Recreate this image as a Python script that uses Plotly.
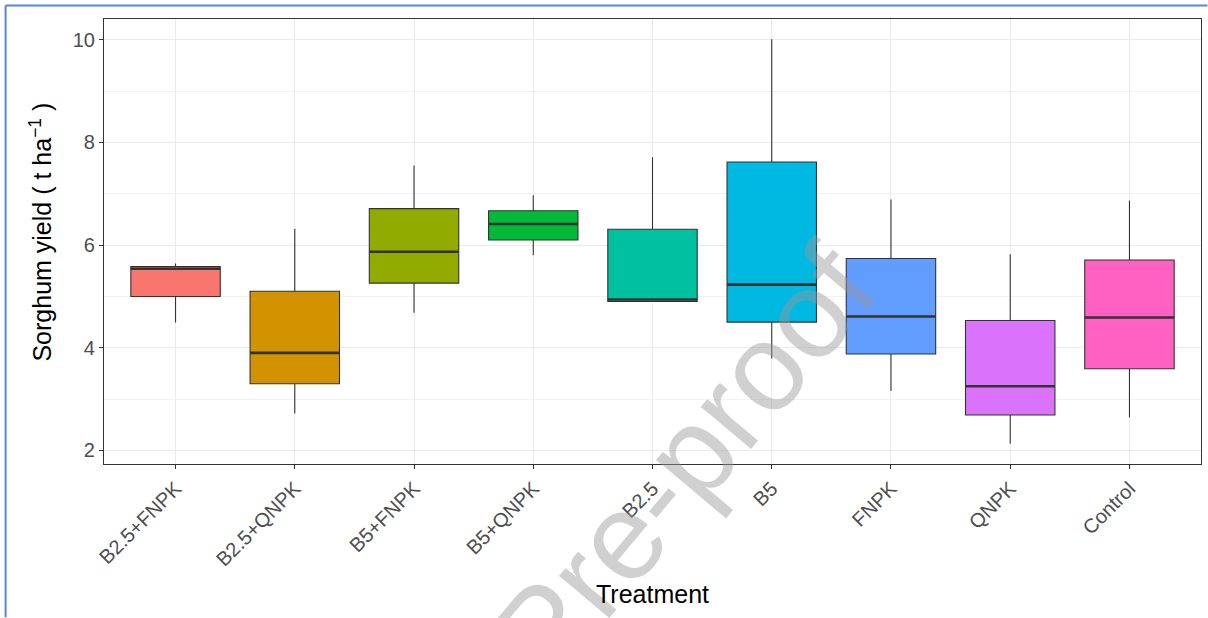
import plotly.graph_objects as go

# ---- data ----
treatments = ["B2.5+FNPK", "B2.5+QNPK", "B5+FNPK", "B5+QNPK", "B2.5", "B5", "FNPK", "QNPK", "Control"]
lower_whisker = [4.49, 2.72, 4.68, 5.80, 4.90, 3.79, 3.16, 2.13, 2.64]
q1_values = [5.00, 3.30, 5.26, 6.10, 4.90, 4.50, 3.88, 2.69, 3.59]
median_values = [5.54, 3.90, 5.87, 6.41, 4.94, 5.23, 4.61, 3.25, 4.59]
q3_values = [5.58, 5.10, 6.71, 6.67, 6.31, 7.62, 5.74, 4.53, 5.71]
upper_whisker = [5.64, 6.32, 7.55, 6.97, 7.71, 10.01, 6.89, 5.82, 6.87]
fill_colors = ["#F8766D", "#D39200", "#93AA00", "#00BA38", "#00C19F",
               "#00B9E3", "#619CFF", "#DB72FB", "#FF61C3"]
y_ticks = [2, 4, 6, 8, 10]

fig = go.Figure()

for i, t in enumerate(treatments):
    fig.add_trace(go.Box(
        x=[t],
        q1=[q1_values[i]], median=[median_values[i]], q3=[q3_values[i]],
        lowerfence=[lower_whisker[i]], upperfence=[upper_whisker[i]],
        fillcolor=fill_colors[i],
        line=dict(color="#333333", width=1.1),
        whiskerwidth=0,
        width=0.75,
        boxpoints=False,
        showlegend=False,
        hoverinfo="skip",
    ))

# thick median bars (ggplot fatten)
fig.add_trace(go.Box(
    x=treatments,
    q1=median_values, median=median_values, q3=median_values,
    lowerfence=median_values, upperfence=median_values,
    fillcolor="rgba(0,0,0,0)",
    line=dict(color="#333333", width=2.6),
    whiskerwidth=0,
    width=0.75,
    boxpoints=False,
    showlegend=False,
    hoverinfo="skip",
))

L, R, T, B = 103.5, 1201.5, 18.5, 464.5
W, H = 1208, 618
FONT = "Arial, Liberation Sans, sans-serif"

def px_x(p):
    return (p - L) / (R - L)

def px_y(p):
    return (B - p) / (B - T)

fig.update_layout(
    width=W, height=H,
    margin=dict(l=L, r=W - R, t=T, b=H - B, pad=0),
    paper_bgcolor="white",
    plot_bgcolor="white",
    boxmode="overlay",
    font=dict(family=FONT, color="#4D4D4D", size=20),
    xaxis=dict(
        type="category",
        categoryorder="array", categoryarray=treatments,
        range=[-0.6, len(treatments) - 0.4],
        tickangle=-45,
        tickfont=dict(size=20, color="#4D4D4D", family=FONT),
        ticks="outside", ticklen=4, tickcolor="#333333", tickwidth=1,
        showgrid=True, gridcolor="#EBEBEB", gridwidth=1,
        showline=True, linecolor="#333333", linewidth=1.2, mirror=True,
        zeroline=False,
    ),
    yaxis=dict(
        range=[1.736, 10.404],
        tickvals=y_ticks,
        ticktext=[str(v) for v in y_ticks],
        tickfont=dict(size=20, color="#4D4D4D", family=FONT),
        ticks="outside", ticklen=4, tickcolor="#333333", tickwidth=1,
        showgrid=True, gridcolor="#EBEBEB", gridwidth=1,
        minor=dict(dtick=1, tick0=1, showgrid=True, gridcolor="#F2F2F2", gridwidth=0.6, ticks=""),
        showline=True, linecolor="#333333", linewidth=1.2, mirror=True,
        zeroline=False,
    ),
)

annotations = [
    dict(text="Journal Pre-proof", xref="paper", yref="paper",
         x=px_x(542), y=px_y(632), xanchor="center", yanchor="middle", textangle=-50,
         showarrow=False, font=dict(size=124, color="rgba(150,150,150,0.45)", family=FONT)),
    dict(text="Treatment", xref="paper", yref="paper",
         x=px_x(652), y=px_y(595), xanchor="center", yanchor="middle",
         showarrow=False, font=dict(size=25, color="black", family=FONT)),
    dict(text="Sorghum yield ( t ha<sup>−1</sup> )", xref="paper", yref="paper",
         x=px_x(40), y=px_y(232), xanchor="center", yanchor="middle", textangle=-90,
         showarrow=False, font=dict(size=25, color="black", family=FONT)),
]
fig.update_layout(annotations=annotations)

# blue frame of the source figure
frame = dict(color="#5B84D2", width=2)
fig.add_shape(type="line", xref="paper", yref="paper",
              x0=px_x(5), x1=px_x(1208), y0=px_y(5), y1=px_y(5), line=frame, layer="above")
fig.add_shape(type="line", xref="paper", yref="paper",
              x0=px_x(5), x1=px_x(5), y0=px_y(5), y1=px_y(618), line=frame, layer="above")

fig.write_html("out.html", config={"displayModeBar": False},
               post_script="document.body.style.margin='0';document.body.style.overflow='hidden';")
